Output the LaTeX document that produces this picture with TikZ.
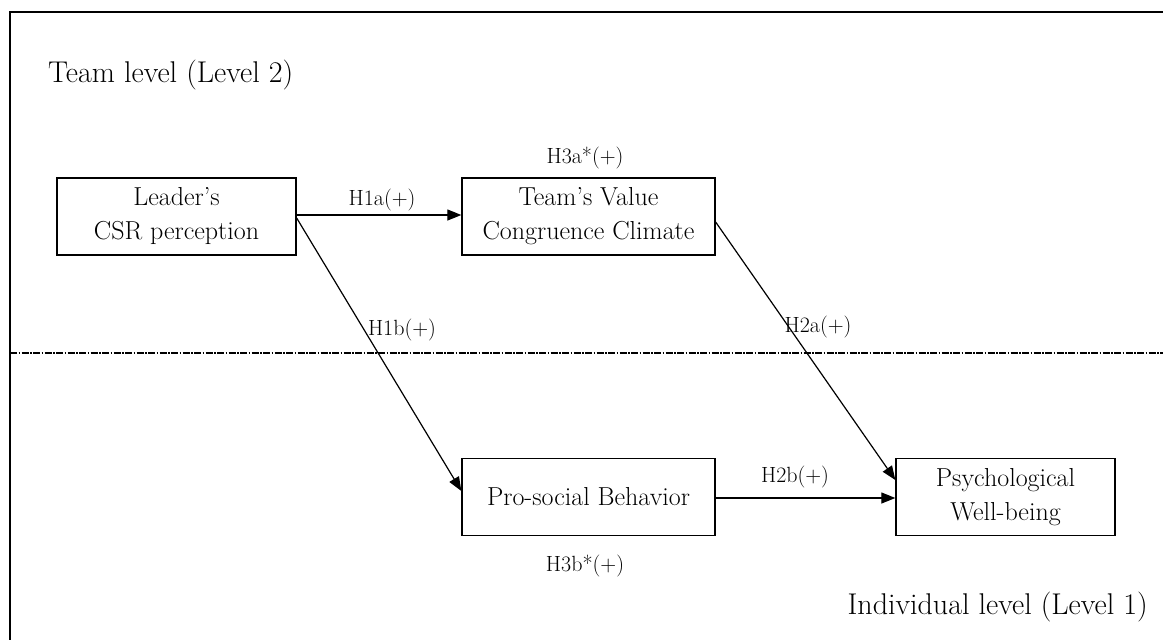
\documentclass[tikz,border=0pt]{standalone}
\usepackage{fontspec}
\usetikzlibrary{arrows.meta}
\begin{document}
\begin{tikzpicture}[x=1pt,y=-1pt,
  box/.style={draw,line width=1.3pt,minimum width=#1,minimum height=77pt,align=center,inner sep=0pt,font=\fontsize{26}{34}\selectfont},
  lbl/.style={font=\fontsize{22}{24}\selectfont,inner sep=0pt},
  lvl/.style={font=\fontsize{30}{34}\selectfont,inner sep=0pt,anchor=base west},
  arr/.style={line width=1.2pt,-{Triangle[length=14pt,width=11pt]}}]
\useasboundingbox (0,0) rectangle (1163,640);
\draw[line width=1.5pt] (10,640) -- (10,12) -- (1163,12);
\draw[line width=1.4pt,dash pattern=on 7pt off 1.5pt on 1.5pt off 1.5pt] (10,353) -- (1163,353);
\node[lvl] (team) at (48,82) {Team level (Level 2)};
\node[lvl,anchor=base east] (indiv) at (1148,614) {Individual level (Level 1)};
\node[box=239pt] (lead) at (176.5,216.5) {Leader's\\CSR perception};
\node[box=253pt] (tvc) at (588.5,216.5) {Team's Value\\Congruence Climate};
\node[box=253pt] (pro) at (588.5,497) {Pro-social Behavior};
\node[box=219pt] (psy) at (1005.5,497) {Psychological\\Well-being};
\draw[arr] (lead.east |- 0,215) -- (tvc.west |- 0,215);
\draw[arr] (lead.east |- 0,218) -- (pro.west |- 0,491);
\draw[arr] (tvc.east |- 0,222) -- (psy.west |- 0,480);
\draw[arr] (pro.east |- 0,498) -- (psy.west |- 0,498);
\node[lbl] (h1a) at (382,200) {H1a(+)};
\node[lbl] (h1b) at (402,330) {H1b(+)};
\node[lbl] (h2a) at (818,327) {H2a(+)};
\node[lbl] (h2b) at (795,477) {H2b(+)};
\node[lbl] (h3a) at (585,158) {H3a*(+)};
\node[lbl] (h3b) at (585,566) {H3b*(+)};
\end{tikzpicture}
\end{document}
